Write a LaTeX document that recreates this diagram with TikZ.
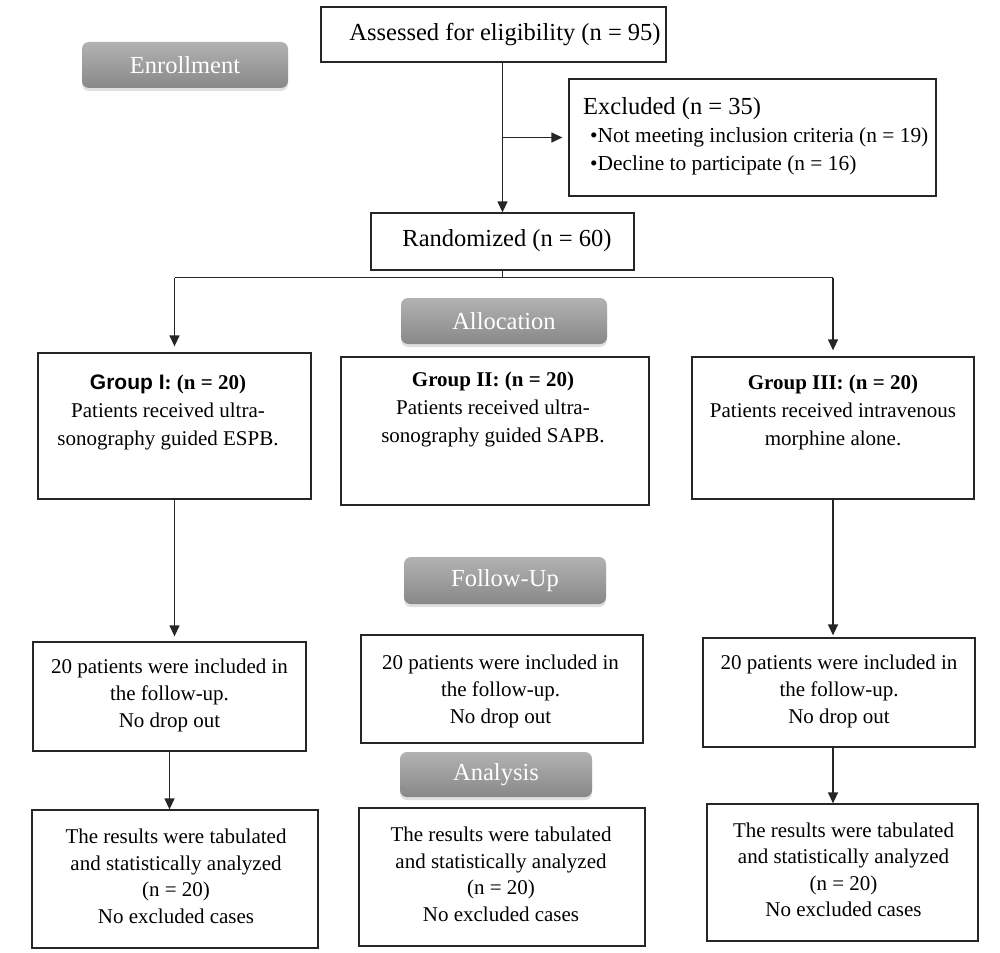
\documentclass[tikz,border=0pt]{standalone}
\usepackage{fontspec}
\setmainfont{Liberation Serif}
\setsansfont{Liberation Sans}
\usetikzlibrary{arrows.meta,shadows,calc}
\definecolor{btnTop}{RGB}{178,178,178}
\definecolor{btnBot}{RGB}{136,136,136}
\begin{document}
\begin{tikzpicture}[x=1pt,y=-1pt,
  box/.style={draw=black!85,line width=1.3pt,inner sep=0pt,fill=white},
  bigtxt/.style={font=\fontsize{24.5}{30}\selectfont,align=center,inner sep=0pt},
  txt/.style={font=\fontsize{21}{28}\selectfont,align=center,inner sep=0pt},
  ftxt/.style={font=\fontsize{21}{27}\selectfont,align=center,inner sep=0pt},
  rtxt/.style={font=\fontsize{21}{26.5}\selectfont,align=center,inner sep=0pt},
  btn/.style={rounded corners=7pt,top color=btnTop,bottom color=btnBot,draw=none,
    drop shadow={shadow xshift=0pt,shadow yshift=-3pt,opacity=0.25},
    text=white,font=\fontsize{24.5}{30}\selectfont,inner sep=0pt},
  conn/.style={draw=black!85,line width=1.3pt},
  arr/.style={conn,-{Triangle[width=10pt,length=11pt]}}]
\fill[white] (0,0) rectangle (1000,952);
\useasboundingbox (0,0) rectangle (1000,952);

% buttons
\node[btn,minimum width=206pt,minimum height=46pt] (enroll) at (185,65) {Enrollment};
\node[btn,minimum width=206pt,minimum height=46pt] (alloc) at (504,321) {Allocation};
\node[btn,minimum width=202pt,minimum height=47pt] (follow) at (505,580.5) {Follow-Up};
\node[btn,minimum width=192pt,minimum height=45pt] (analysis) at (496,774.5) {Analysis};

% boxes
\node[box,minimum width=345pt,minimum height=55pt] (assess) at (493.5,34.5) {};
\node[box,minimum width=367pt,minimum height=117pt] (excl) at (752.5,137.5) {};
\node[box,minimum width=263pt,minimum height=57pt] (rand) at (502.5,241.5) {};
\node[box,minimum width=273pt,minimum height=146pt] (g1) at (174.5,426) {};
\node[box,minimum width=308pt,minimum height=148pt] (g2) at (495,431) {};
\node[box,minimum width=282pt,minimum height=142pt] (g3) at (833,428) {};
\node[box,minimum width=273pt,minimum height=109pt] (f1) at (169.5,696.5) {};
\node[box,minimum width=282pt,minimum height=108pt] (f2) at (502,689) {};
\node[box,minimum width=272pt,minimum height=109pt] (f3) at (839,692.5) {};
\node[box,minimum width=286pt,minimum height=138pt] (r1) at (175,879) {};
\node[box,minimum width=286pt,minimum height=138pt] (r2) at (502,877) {};
\node[box,minimum width=271pt,minimum height=137pt] (r3) at (842.5,872.5) {};

% texts
\node[bigtxt] (assesst) at (505,35) {Assessed for eligibility (n = 95)};
\node[bigtxt,anchor=west] (exh) at (583,109) {Excluded (n = 35)};
\node[txt,anchor=west,font=\fontsize{21.4}{28}\selectfont] (exb1) at (590,137) {•Not meeting inclusion criteria (n = 19)};
\node[txt,anchor=west,font=\fontsize{21.4}{28}\selectfont] (exb2) at (590,165) {•Decline to participate (n = 16)};
\node[bigtxt] (randt) at (507,241) {Randomized (n = 60)};

\node[txt] (g1t) at (168,412) {\textbf{\textsf{Group I}: (n = 20)}\\Patients received ultra-\\sonography guided ESPB.};
\node[txt] (g2t) at (493,409) {\textbf{Group II: (n = 20)}\\Patients received ultra-\\sonography guided SAPB.};
\node[txt] (g3t) at (833,412) {\textbf{Group III: (n = 20)}\\Patients received intravenous\\morphine alone.};

\node[ftxt] (f1t) at (169.5,695) {20 patients were included in\\the follow-up.\\No drop out};
\node[ftxt] (f2t) at (500.5,691) {20 patients were included in\\the follow-up.\\No drop out};
\node[ftxt] (f3t) at (839,691) {20 patients were included in\\the follow-up.\\No drop out};

\node[rtxt] (r1t) at (176,876.5) {The results were tabulated\\and statistically analyzed\\(n = 20)\\No excluded cases};
\node[rtxt] (r2t) at (501,874.5) {The results were tabulated\\and statistically analyzed\\(n = 20)\\No excluded cases};
\node[rtxt] (r3t) at (843.5,870) {The results were tabulated\\and statistically analyzed\\(n = 20)\\No excluded cases};

% connectors
\draw[arr] (assess.south -| rand.north) -- (rand.north);
\draw[arr] (excl.west -| rand.north) -- ($(excl.west)+(-6,0)$);
\draw[conn] (rand.south) -- ++(0,7) coordinate (split);
\draw[conn] (split -| g1.north) -- (split -| g3.north);
\draw[arr] (split -| g1.north) -- ($(g1.north)+(0,-6)$);
\draw[arr] (split -| g3.north) -- ($(g3.north)+(0,-6)$);
\draw[arr] (g1.south) -- ($(g1.south |- f1.north)+(0,-5)$);
\draw[arr] (f1.south) -- (f1.south |- r1.north);
\draw[arr] (g3.south) -- ($(g3.south |- f3.north)+(0,-2)$);
\draw[arr] (g3.south |- f3.south) -- (g3.south |- r3.north);
\end{tikzpicture}
\end{document}
